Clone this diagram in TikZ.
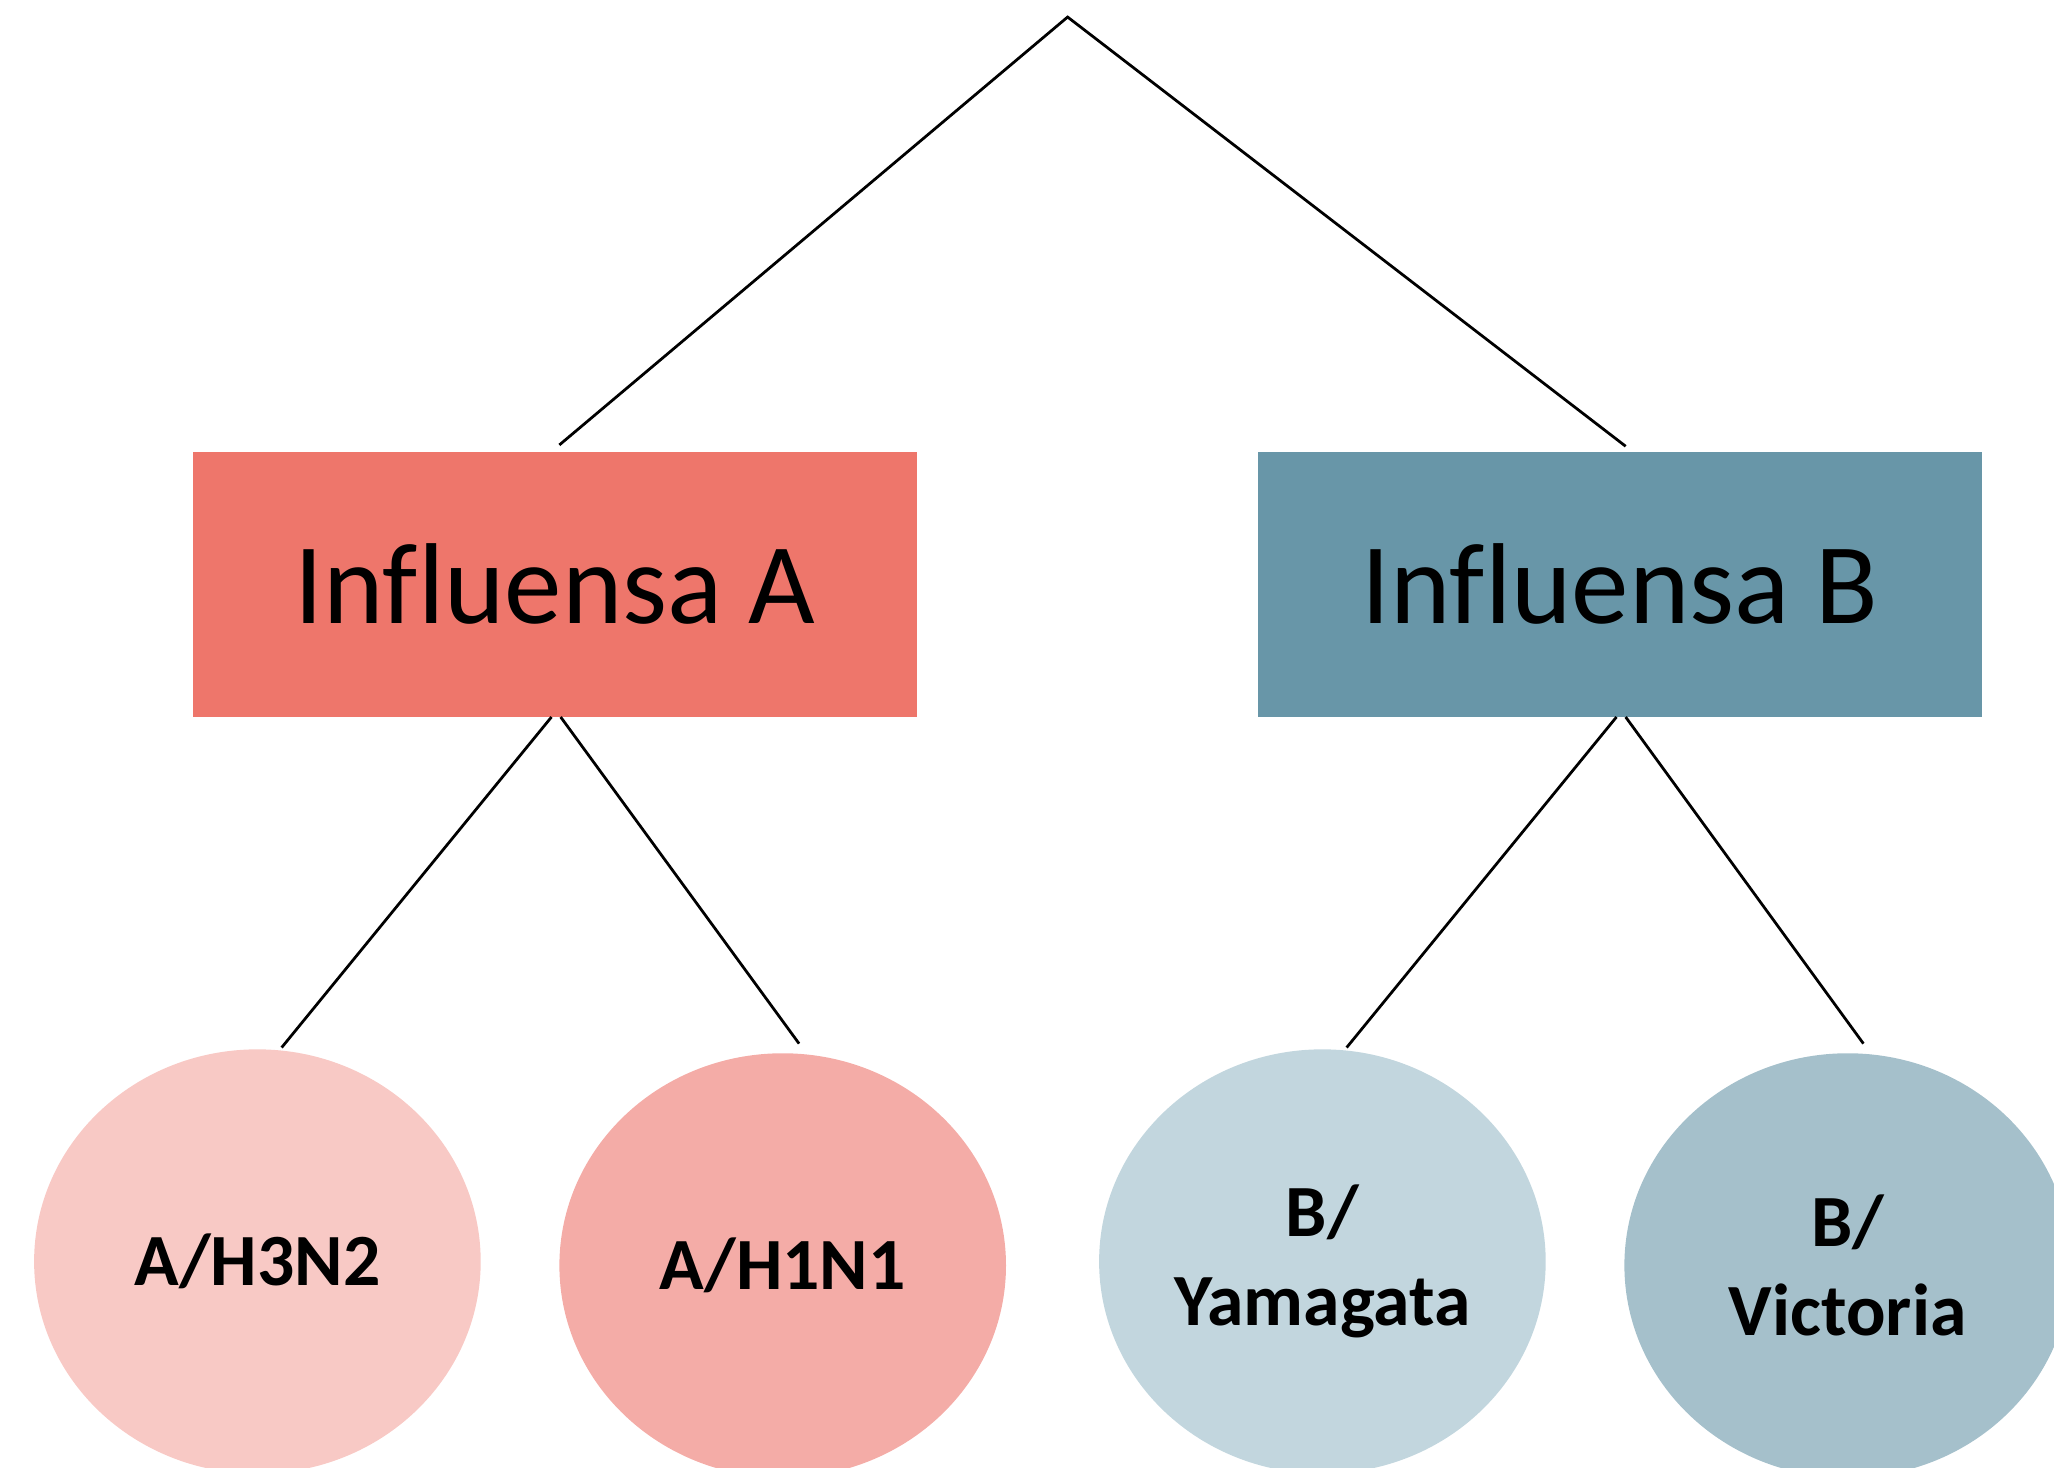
\documentclass[tikz,border=0pt]{standalone}
\usepackage{fontspec}
\setmainfont{Carlito}[Ligatures=CommonOff]
\usepackage{tikz}
\usetikzlibrary{shapes.geometric}
\definecolor{fluA}{HTML}{EE766B}
\definecolor{fluB}{HTML}{6896A8}
\definecolor{hthree}{HTML}{F8C9C5}
\definecolor{hone}{HTML}{F4ACA7}
\definecolor{yama}{HTML}{C2D6DE}
\definecolor{vict}{HTML}{A5C0CB}
\tikzset{
  type box/.style={
    rectangle,
    draw=none,
    minimum width=11.06cm,
    minimum height=4.04cm,
    inner sep=0pt,
    font=\fontsize{50}{60}\selectfont
  },
  strain/.style={
    ellipse,
    draw=none,
    minimum width=6.82cm,
    minimum height=6.48cm,
    inner sep=0pt,
    align=center,
    font=\fontsize{32}{38.5}\selectfont\bfseries
  },
  branch/.style={
    line width=1.2pt,
    color=black
  }
}

\begin{document}
\begin{tikzpicture}[x=0.02cm, y=-0.02cm]
  % Canvas
  \useasboundingbox (0,0) rectangle (1568,1120);
  \clip (0,0) rectangle (1568,1120);

  % Root
  \coordinate (apex) at (815,13);

  % Types
  \node[type box, fill=fluA] (infA) at (423.5,446) {Influensa A};
  \node[type box, fill=fluB] (infB) at (1236.5,446) {Influensa B};

  % Subtypes / lineages
  \node[strain, fill=hthree] (h3n2) at (196.5,963) {A/H3N2};
  \node[strain, fill=hone] (h1n1) at (597.5,966) {A/H1N1};
  \node[strain, fill=yama] (yam) at (1009.5,963) {B/\\Yamagata};
  \node[strain, fill=vict] (vic) at (1410.5,966) {B/\\Victoria};

  % Branches from root
  \draw[branch] ([xshift=0.07cm, yshift=0.1cm]infA.north) -- (apex)
    -- ([xshift=0.09cm, yshift=0.08cm]infB.north);

  % Branches to influenza A
  \draw[branch] ([xshift=-0.05cm]infA.south) -- ([xshift=0.37cm, yshift=0.02cm]h3n2.north);
  \draw[branch] ([xshift=0.09cm]infA.south) -- ([xshift=0.25cm, yshift=0.14cm]h1n1.north);

  % Branches to influenza B
  \draw[branch] ([xshift=-0.05cm]infB.south) -- ([xshift=0.37cm, yshift=0.02cm]yam.north);
  \draw[branch] ([xshift=0.09cm]infB.south) -- ([xshift=0.24cm, yshift=0.14cm]vic.north);
\end{tikzpicture}
\end{document}
